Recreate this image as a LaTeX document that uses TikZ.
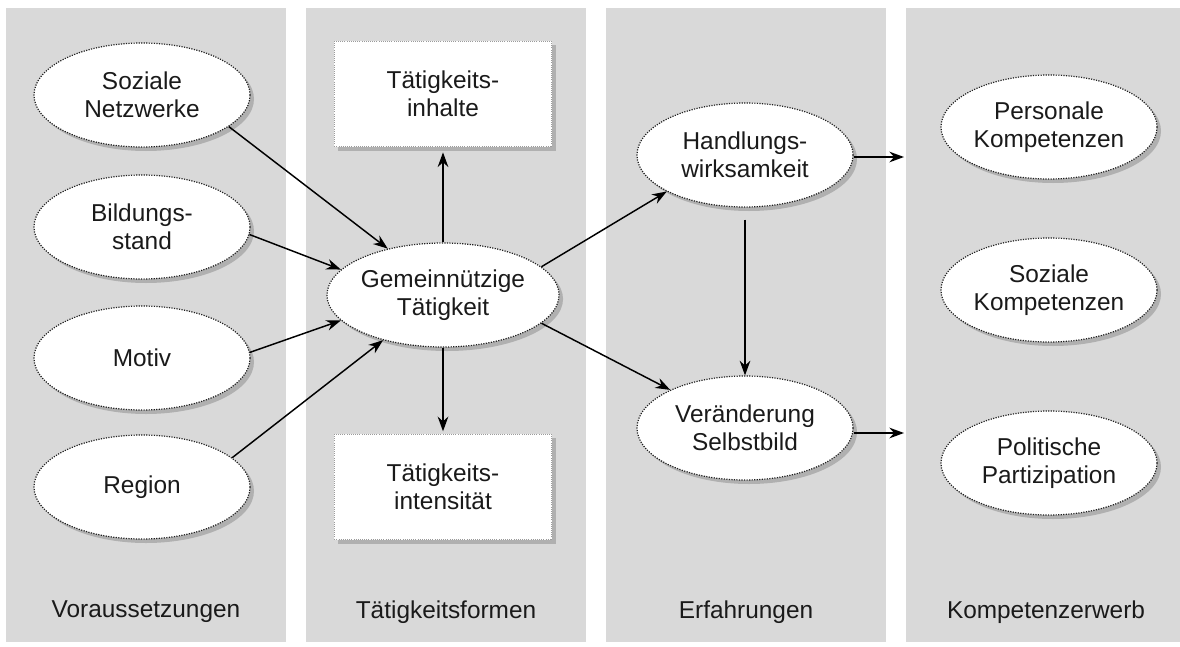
\documentclass[tikz,border=0pt]{standalone}
\usepackage{fontspec}
\setmainfont{Liberation Sans}
\usetikzlibrary{shapes.geometric,shadows,arrows.meta}
\definecolor{panelgray}{HTML}{D9D9D9}
\definecolor{rimgray}{HTML}{202020}
\definecolor{inkgray}{HTML}{1A1A1A}
\begin{document}
\begin{tikzpicture}[x=0.75pt,y=-0.75pt,
    font=\fontsize{18.3}{21}\selectfont,text=inkgray,
    oval/.style={ellipse,draw=rimgray,densely dotted,line width=0.9pt,fill=white,
      minimum width=162pt,minimum height=78pt,inner sep=0pt,align=center,
      drop shadow={shadow xshift=3pt,shadow yshift=-3pt,opacity=0.45}},
    card/.style={rectangle,draw=rimgray!45,densely dotted,line width=0.6pt,fill=white,
      minimum width=163pt,minimum height=79pt,inner sep=0pt,align=center,
      drop shadow={shadow xshift=3pt,shadow yshift=-3pt,opacity=0.45}},
    link/.style={-{Stealth[length=11pt,width=8pt]},line width=1.1pt,black}]
  \useasboundingbox (0,0) rectangle (1180,646);
  \fill[white] (0,0) rectangle (1180,646);
  \foreach \x in {6,306,606,906}
    \fill[panelgray] (\x,8) rectangle ({\x+280},642);

  \node[oval] (netz) at (142,95) {Soziale\\Netzwerke};
  \node[oval] (bild) at (142,227) {Bildungs-\\stand};
  \node[oval] (motiv) at (142,358) {Motiv};
  \node[oval] (region) at (142,487) {Region};

  \node[oval] (gem) at (443,295) {Gemeinnützige\\Tätigkeit};
  \node[card] (inhalt) at (443,94) {Tätigkeits-\\inhalte};
  \node[card] (intens) at (443,487) {Tätigkeits-\\intensität};

  \node[oval] (handl) at (745,155) {Handlungs-\\wirksamkeit};
  \node[oval] (selbst) at (745,428) {Veränderung\\Selbstbild};

  \node[oval] (perskomp) at (1049,127) {Personale\\Kompetenzen};
  \node[oval] (sozkomp) at (1049,290) {Soziale\\Kompetenzen};
  \node[oval] (partiz) at (1049,463) {Politische\\Partizipation};

  \node (col1) at (146,612) {Voraussetzungen};
  \node (col2) at (446,612) {Tätigkeitsformen};
  \node (col3) at (746,612) {Erfahrungen};
  \node (col4) at (1046,612) {Kompetenzerwerb};

  \coordinate (hout) at (904,157);
  \coordinate (sout) at (904,433);

  \draw[link] (netz.-20) -- (gem.140);
  \draw[link] (bild.-4) -- (gem.166);
  \draw[link] (motiv.3) -- (gem.194);
  \draw[link] (region.18) -- (gem.217);
  \draw[link,shorten >=4pt] (gem.north) -- (inhalt.south);
  \draw[link,shorten >=2pt] (gem.south) -- (intens.north);
  \draw[link] (gem.16) -- (handl.205);
  \draw[link] (gem.-16) -- (selbst.153);
  \draw[link,shorten <=9pt] (handl.south) -- (selbst.north);
  \draw[link] (handl.east |- hout) -- (hout);
  \draw[link] (selbst.east |- sout) -- (sout);
\end{tikzpicture}
\end{document}
